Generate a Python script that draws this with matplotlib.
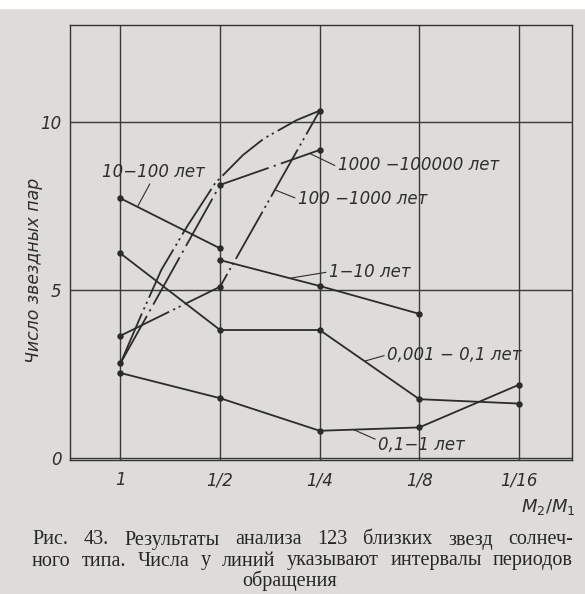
import matplotlib.pyplot as plt
from matplotlib.patches import Rectangle

# mass ratio M2/M1 along the x axis
ratios = ["1", "1/2", "1/4", "1/8", "1/16"]
pos = [0, 1, 2, 3, 4]

# number of star pairs
pairs_10_100 = [7.73, 6.24]                        # at 1, 1/2
pairs_1_10 = [5.89, 5.12, 4.29]                    # at 1/2, 1/4, 1/8
pairs_0001_01 = [6.09, 3.81, 3.81, 1.75, 1.62]
pairs_01_1 = [2.53, 1.78, 0.81, 0.91, 2.18]
pairs_1000_100000 = [2.82, 8.13, 9.17]             # at 1, 1/2, 1/4
pairs_100_1000 = [3.64, 5.10, 10.34]               # at 1, 1/2, 1/4
# smooth dash-dot curve, read along its length
curve_x = [0, 0.2, 0.41, 0.67, 0.95, 1.23, 1.44, 1.77, 2.0]
curve_y = [2.82, 4.2, 5.6, 6.9, 8.18, 9.02, 9.51, 10.06, 10.34]

paper = '#dddcd8'
ink = '#2e2e2e'
italic = dict(style='italic', color=ink, family='DejaVu Sans')

fig = plt.figure(figsize=(5.85, 5.94), dpi=100)
fig.patch.set_facecolor(paper)
fig.patches.append(Rectangle((0, 1 - 8 / 594), 1, 8 / 594, transform=fig.transFigure,
                             color='white', zorder=0))

ax = fig.add_axes([70 / 585, 1 - 460 / 594, 502 / 585, 435 / 594])
ax.set_facecolor(paper)
ax.set_xlim(-0.507, 4.533)
ax.set_ylim(-0.06, 12.89)
for s in ax.spines.values():
    s.set_color('#333333')
    s.set_linewidth(1.0)

ax.set_xticks(pos)
ax.set_xticklabels(ratios, fontsize=12, **italic)
ax.set_yticks([0, 5, 10])
ax.set_yticklabels(['0', '5', '10'], fontsize=12, **italic)
ax.tick_params(length=0)
ax.tick_params(axis='x', pad=8)
ax.tick_params(axis='y', pad=6)
ax.grid(True, color='#3a3a3a', lw=1.0)
ax.set_axisbelow(True)

lw = 1.3
dash_dot = (30, 3, 1.2, 3)
dash_dot_dot = (30, 2.5, 1.2, 2.2, 1.2, 2.5)
mk = dict(marker='o', ms=3.6, color='#2b2b2b', lw=lw)
ax.plot(pos[:2], pairs_10_100, **mk)
ax.plot(pos[1:4], pairs_1_10, **mk)
ax.plot(pos, pairs_0001_01, **mk)
ax.plot(pos, pairs_01_1, **mk)
ax.plot(pos[:3], pairs_1000_100000, dashes=dash_dot, **mk)
ax.plot(pos[:3], pairs_100_1000, dashes=dash_dot_dot, **mk)
ax.plot(curve_x, curve_y, color='#2b2b2b', lw=lw, dashes=dash_dot_dot)


def on_segment(xs, ys, x):
    # point on a polyline at position x
    for i in range(len(xs) - 1):
        if xs[i] <= x <= xs[i + 1]:
            t = (x - xs[i]) / (xs[i + 1] - xs[i])
            return x, ys[i] + t * (ys[i + 1] - ys[i])


leader = dict(arrowstyle='-', color=ink, lw=0.8, shrinkA=0, shrinkB=0)
labels = [
    ("10−100 лет", pos[:2], pairs_10_100, 0.17, (0.33, 8.51), 'center', (0.48, 0)),
    ("1000 −100000 лет", pos[:3], pairs_1000_100000, 1.9, (2.18, 8.72), 'left', (0, 0.4)),
    ("100 −1000 лет", pos[:3], pairs_100_1000, 1.55, (1.78, 7.71), 'left', (0, 0.5)),
    ("1−10 лет", pos[1:4], pairs_1_10, 1.7, (2.09, 5.54), 'left', (0, 0.5)),
    ("0,001 − 0,1 лет", pos, pairs_0001_01, 2.45, (2.675, 3.07), 'left', (0, 0.5)),
    ("0,1−1 лет", pos, pairs_01_1, 2.34, (2.585, 0.39), 'left', (0, 0.75)),
]
for txt, xs, ys, at, xyt, ha, rp in labels:
    ax.annotate(txt, xy=on_segment(xs, ys, at), xytext=xyt, ha=ha, va='center',
                fontsize=12, arrowprops=dict(relpos=rp, **leader), **italic)

fig.text(34 / 585, 1 - 270 / 594, "Число звездных пар", rotation=90, ha='center',
         va='center', fontsize=12.5, **italic)
fig.text(548 / 585, 1 - 507 / 594, "$M_2/M_1$", ha='center', va='center',
         fontsize=13, color=ink)

caption = ["Рис. 43. Результаты анализа 123 близких звезд солнеч-",
           "ного типа. Числа у линий указывают интервалы периодов"]


def justified(line, ypix, x0, x1, size):
    words = line.split()
    texts = [fig.text(0, 1 - ypix / 594, w, fontsize=size, family='Liberation Serif',
                      color='#262626', va='center') for w in words]
    fig.canvas.draw()
    r = fig.canvas.get_renderer()
    widths = [t.get_window_extent(r).width for t in texts]
    gap = ((x1 - x0) - sum(widths)) / (len(words) - 1)
    x = x0
    for t, w in zip(texts, widths):
        t.set_x(x / 585)
        x += w + gap


justified(caption[0], 540, 32, 573, 14.5)
justified(caption[1], 561, 32, 573, 14.5)
fig.text(290 / 585, 1 - 581 / 594, "обращения", ha='center', va='center', fontsize=14.5,
         family='Liberation Serif', color='#262626')

fig.savefig('out.png', dpi=100, facecolor=paper)
